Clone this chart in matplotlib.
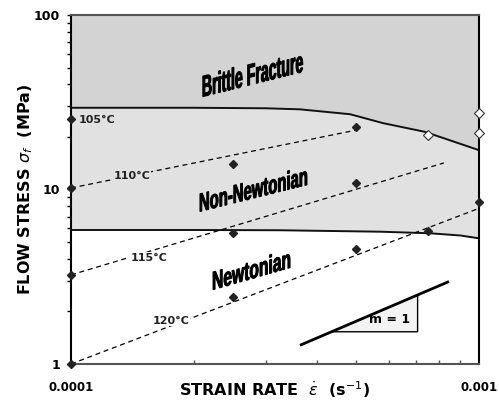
import numpy as np
import matplotlib
matplotlib.use("Agg")
import matplotlib.pyplot as plt
from matplotlib.textpath import TextPath
from matplotlib.patches import PathPatch, Polygon
from matplotlib.font_manager import FontProperties
from matplotlib.transforms import Affine2D
from matplotlib.ticker import NullFormatter

# boundaries between regimes
brittle_x = [1e-4, 2e-4, 3e-4, 3.64e-4, 4.83e-4, 5.82e-4, 7.37e-4, 1e-3]
brittle_y = [29.4, 29.4, 29.2, 28.8, 27.0, 24.0, 21.4, 16.8]
newt_x = [1e-4, 2e-4, 3.25e-4, 5.72e-4, 7.59e-4, 9.0e-4, 1e-3]
newt_y = [5.86, 5.86, 5.84, 5.73, 5.61, 5.45, 5.25]

# measured points (filled) per temperature
t105_x, t105_y = [1e-4], [25.5]
t110_x, t110_y = [1e-4, 2.5e-4, 5e-4], [10.2, 14.0, 22.7]
t115_x, t115_y = [1e-4, 2.5e-4, 5e-4], [3.24, 5.66, 10.9]
t120_x, t120_y = [1e-4, 2.5e-4, 5e-4, 7.5e-4, 1e-3], [1.0, 2.41, 4.54, 5.8, 8.5]
# fractured specimens (open)
frac_x, frac_y = [7.5e-4, 1e-3, 1e-3], [20.5, 21.2, 27.3]

# power-law fit lines (end points)
fit110_x, fit110_y = [1e-4, 5e-4], [10.2, 21.9]
fit115_x, fit115_y = [1e-4, 8.2e-4], [3.24, 14.2]
fit120_x, fit120_y = [1e-4, 1e-3], [1.0, 7.8]

# slope m = 1 guide
slope_x = [3.64e-4, 8.44e-4]
slope_k = 3517.0
tri_x = [4.35e-4, 7.07e-4]

dark = '#d3d3d3'
light = '#e1e1e1'

fig = plt.figure(figsize=(4.99, 4.01), dpi=100)
ax = fig.add_axes([0.1423, 0.0923, 0.8177, 0.8703])
ax.set_xscale('log')
ax.set_yscale('log')
ax.set_xlim(1e-4, 1e-3)
ax.set_ylim(1, 100)

ax.fill_between(newt_x, newt_y, 100, color=light, lw=0, zorder=0)
ax.fill_between(brittle_x, brittle_y, 100, color=dark, lw=0, zorder=0)
ax.plot(brittle_x, brittle_y, color='#111111', lw=1.4, zorder=2)
ax.plot(newt_x, newt_y, color='#111111', lw=1.4, zorder=2)

dash = dict(color='black', lw=0.9, ls=(0, (4, 3)), zorder=3)
ax.plot(fit110_x, fit110_y, **dash)
ax.plot(fit115_x, fit115_y, **dash)
ax.plot(fit120_x, fit120_y, **dash)

mk = dict(ls='none', marker='D', ms=4.5, color='#222222', zorder=5, clip_on=False)
for xs, ys in [(t105_x, t105_y), (t110_x, t110_y), (t115_x, t115_y), (t120_x, t120_y)]:
    ax.plot(xs, ys, **mk)
ax.plot(frac_x, frac_y, ls='none', marker='D', ms=5, mfc='white', mec='#333333',
        mew=0.8, zorder=5, clip_on=False)

# temperature labels
tl = dict(fontsize=8, fontweight='bold', color='#222222', zorder=4)
ax.text(1.046e-4, 25.0, '105°C', ha='left', va='center', **tl)
ax.text(1.41e-4, 11.9, '110°C', ha='center', va='center',
        bbox=dict(fc=light, ec='none', pad=0.6), **tl)
ax.text(1.55e-4, 4.07, '115°C', ha='center', va='center',
        bbox=dict(fc='white', ec='none', pad=0.6), **tl)
ax.text(1.76e-4, 1.77, '120°C', ha='center', va='center',
        bbox=dict(fc='white', ec='none', pad=0.6), **tl)

# slope triangle
sx = np.array(slope_x)
ax.plot(sx, slope_k * sx, color='black', lw=2, zorder=4, solid_capstyle='butt')
tx = np.array(tri_x)
tri = Polygon([[tx[0], slope_k * tx[0]], [tx[1], slope_k * tx[1]], [tx[1], slope_k * tx[0]]],
              closed=True, fc='#f3f3f3', ec='black', lw=1, zorder=3)
ax.add_patch(tri)
ax.text(6.05e-4, 1.79, 'm = 1', ha='center', va='center', fontsize=9, fontweight='bold', zorder=5)

# axes styling
for s in ['top', 'bottom']:
    ax.spines[s].set_color('#555555')
for s in ['left', 'right']:
    ax.spines[s].set_color('black')
for s in ax.spines.values():
    s.set_linewidth(1.5)

ax.set_xticks([1e-4, 1e-3])
ax.set_xticklabels(['0.0001', '0.001'], fontweight='bold', fontsize=8.5)
ax.set_xticks([i * 1e-4 for i in range(2, 10)], minor=True)
ax.xaxis.set_minor_formatter(NullFormatter())
ax.tick_params(axis='x', which='minor', direction='in', length=3, width=1, colors='#555555')
ax.tick_params(axis='x', which='major', direction='in', length=0, pad=12)
ax.set_yticks([1, 10, 100])
ax.set_yticklabels(['1', '10', '100'], fontweight='bold', fontsize=9)
ax.set_yticks([i * m for m in (1, 10) for i in range(2, 10)], minor=True)
ax.yaxis.set_minor_formatter(NullFormatter())
ax.tick_params(axis='y', which='both', direction='out', length=3, width=1)
ax.tick_params(axis='y', which='major', pad=5)

ax.set_xlabel(r'STRAIN RATE  $\dot{\varepsilon}$  (s$^{-1}$)', fontsize=11.5, fontweight='bold')
ax.xaxis.set_label_coords(0.5, -0.045)
ax.set_ylabel(r'FLOW STRESS $\sigma_f$  (MPa)', fontsize=11.5, fontweight='bold', labelpad=-1)

# sheared region names
fp = FontProperties(family=['Liberation Sans Narrow', 'Liberation Sans'], weight='bold')
regions = [('Brittle Fracture', 2.79e-4, 46.2, 100, 22, 14),
           ('Non-Newtonian', 2.80e-4, 10.07, 107, 19, 14),
           ('Newtonian', 2.77e-4, 3.48, 77, 19, 16)]
for s, x, y, w, h, ang in regions:
    tp = TextPath((0, 0), s, size=10, prop=fp)
    ext = tp.get_extents()
    px, py = ax.transData.transform((x, y))
    tr = (Affine2D().translate(-(ext.x0 + ext.width / 2), -(ext.y0 + ext.height / 2))
          .scale(w / ext.width, h / ext.height).skew_deg(0, ang).translate(px, py))
    ax.add_artist(PathPatch(tr.transform_path(tp), fc='black', ec='black', lw=0.7,
                            transform=None, zorder=6))

fig.savefig('out.png', dpi=100)
